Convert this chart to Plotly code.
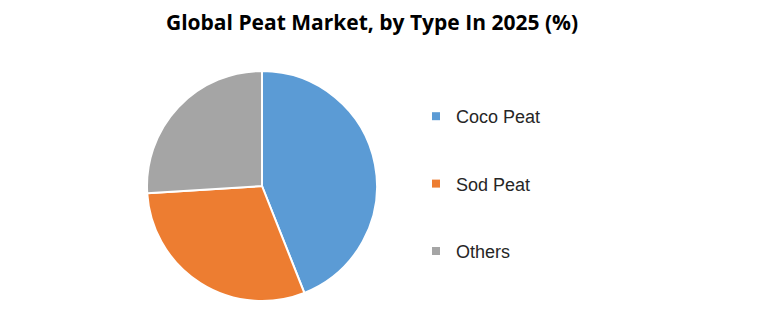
import plotly.graph_objects as go

categories = ["Coco Peat", "Sod Peat", "Others"]
values = [44, 30, 26]
colors = ["#5B9BD5", "#ED7D31", "#A5A5A5"]

W, H = 767, 319

fig = go.Figure()
fig.add_trace(go.Pie(
    labels=categories, values=values, sort=False, direction="clockwise",
    rotation=0, textinfo="none", hoverinfo="label+percent",
    marker=dict(colors=colors, line=dict(color="white", width=2)),
    domain=dict(x=[147 / W, 377 / W], y=[18 / H, 248 / H]),
    showlegend=False,
))
for c, col in zip(categories, colors):
    fig.add_trace(go.Scatter(
        x=[None], y=[None], mode="markers", name=c, legendgroup=c,
        marker=dict(symbol="square", size=8, color=col),
    ))

fig.update_layout(
    width=W, height=H,
    margin=dict(l=0, r=0, t=0, b=0),
    paper_bgcolor="white", plot_bgcolor="white",
    xaxis=dict(visible=False), yaxis=dict(visible=False),
    title=dict(text="<b>Global Peat Market, by Type In 2025 (%)</b>",
               x=372 / W, xanchor="center", y=1 - 23 / H, yanchor="middle",
               font=dict(family="Open Sans", size=21, color="black")),
    legend=dict(x=416 / W, xanchor="left", y=1 - 98 / H, yanchor="top",
                font=dict(family="Liberation Sans", size=18, color="#262626"),
                tracegroupgap=41, itemwidth=30, bgcolor="rgba(0,0,0,0)"),
)
fig.write_html("out.html")
